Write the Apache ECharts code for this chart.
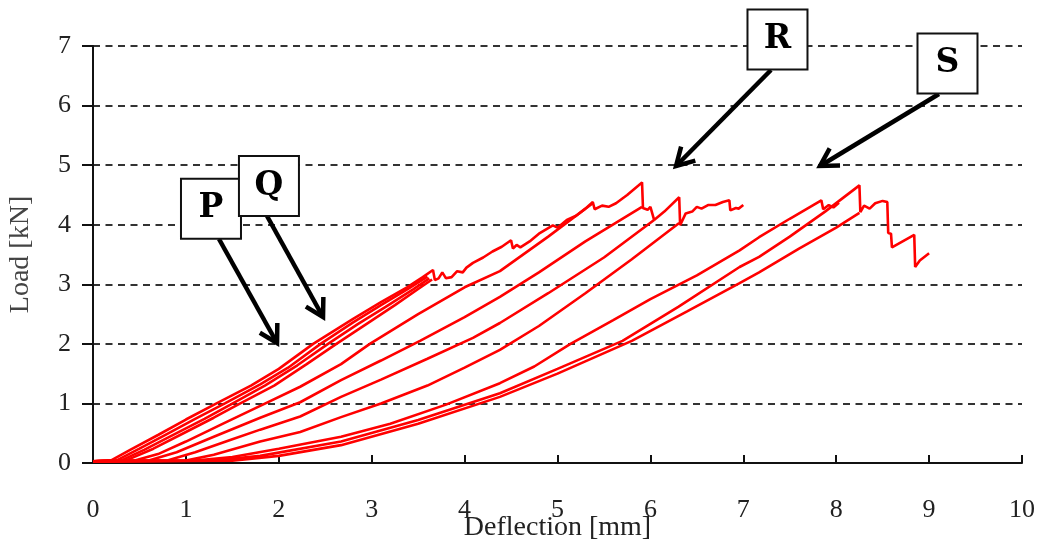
<!DOCTYPE html>
<html>
<head>
<meta charset="utf-8">
<script src="https://cdn.jsdelivr.net/npm/echarts@6/dist/echarts.min.js"></script>
<style>
html, body { margin: 0; padding: 0; background: #fff; }
#main { width: 1040px; height: 544px; }
</style>
</head>
<body>
<div id="main"></div>
<script>
// load-deflection curves, points are [deflection mm, load kN]
var curveP1 = [[0,0.03],[0.2,0.05],[0.4,0.22],[0.7,0.47],[1.0,0.73],[1.33,1.0],[1.7,1.3],[2.0,1.58],[2.37,2.0],[2.8,2.42],[3.1,2.7],[3.38,2.95],[3.55,3.12],[3.66,3.24],[3.68,3.07],[3.72,3.1],[3.76,3.2],[3.8,3.1],[3.86,3.12],[3.92,3.22],[3.98,3.2],[4.02,3.28],[4.09,3.36],[4.2,3.45],[4.3,3.55],[4.4,3.63],[4.5,3.74],
  [4.52,3.6],[4.56,3.66],[4.6,3.62],[4.7,3.72],[4.8,3.85],[4.95,3.99],[5.0,3.95],[5.1,4.08],[5.2,4.15],[5.3,4.27],[5.38,4.38],[5.4,4.26],[5.48,4.32],[5.55,4.3],[5.63,4.36],[5.75,4.5],[5.91,4.71],[5.92,4.28],[5.97,4.25],[6.0,4.3],[6.04,4.08],[6.15,4.22],[6.31,4.46],[6.32,3.99],[6.38,4.19],[6.45,4.22],[6.5,4.3],[6.55,4.27],[6.62,4.33],[6.7,4.33],[6.78,4.38],[6.85,4.41],[6.86,4.24],[6.92,4.28],[6.95,4.27],[7.0,4.33]];
var curveP2 = [[0,0.03],[0.25,0.04],[0.5,0.24],[0.8,0.49],[1.1,0.74],[1.42,1.0],[1.8,1.32],[2.1,1.6],[2.45,2.0],[2.8,2.36],[3.1,2.65],[3.4,2.93],[3.6,3.13]];
var curveP3 = [[0,0.03],[0.3,0.04],[0.55,0.22],[0.9,0.5],[1.2,0.74],[1.48,0.98],[1.85,1.3],[2.2,1.64],[2.53,2.0],[2.85,2.33],[3.15,2.62],[3.45,2.92],[3.62,3.1]];
var curveP4 = [[0,0.03],[0.35,0.04],[0.65,0.24],[1.0,0.52],[1.3,0.76],[1.55,0.97],[1.95,1.3],[2.3,1.66],[2.62,2.0],[2.95,2.34],[3.25,2.65],[3.5,2.92],[3.65,3.08]];
var curveQ1 = [[0,0.03],[0.45,0.04],[0.7,0.15],[1.0,0.36],[1.4,0.66],[1.8,0.96],[2.23,1.28],[2.67,1.66],[2.98,2.0],[3.5,2.5],[4.0,2.95],[4.38,3.22],[4.9,3.8],[5.38,4.36]];
var curveQ2 = [[0,0.03],[0.6,0.04],[0.9,0.18],[1.3,0.44],[1.8,0.76],[2.23,1.02],[2.67,1.39],[3.1,1.72],[3.52,2.05],[4.0,2.45],[4.38,2.79],[4.8,3.2],[5.3,3.72],[5.91,4.3]];
var curveQ3 = [[0,0.03],[0.8,0.04],[1.1,0.18],[1.5,0.4],[1.8,0.56],[2.23,0.78],[2.67,1.11],[3.1,1.4],[3.6,1.75],[4.09,2.1],[4.38,2.35],[4.9,2.85],[5.5,3.45],[6.04,4.08]];
var curveR1 = [[0,0.03],[1.0,0.04],[1.3,0.14],[1.8,0.36],[2.23,0.52],[2.67,0.77],[3.1,1.0],[3.6,1.3],[4.0,1.6],[4.38,1.9],[4.8,2.3],[5.3,2.85],[5.8,3.42],[6.31,4.03]];
var curveS1 = [[0,0.03],[1.1,0.04],[1.5,0.1],[2.0,0.24],[2.67,0.44],[3.2,0.66],[3.8,0.98],[4.38,1.34],[4.75,1.62],[5.14,2.0],[5.6,2.4],[6.0,2.75],[6.5,3.15],[6.96,3.57],[7.17,3.79],[7.5,4.1],[7.84,4.41],[7.86,4.26],[7.92,4.33],[7.97,4.29],[8.03,4.37]];
var curveS2 = [[0,0.03],[1.3,0.04],[1.8,0.12],[2.67,0.36],[3.5,0.72],[4.38,1.17],[5.0,1.58],[5.7,2.05],[6.3,2.62],[6.96,3.29],[7.17,3.46],[7.5,3.8],[7.88,4.22],[8.25,4.66],[8.26,4.21],[8.3,4.32],[8.36,4.27],[8.42,4.36],[8.5,4.4],[8.55,4.38],[8.56,3.86],[8.59,3.85],[8.6,3.62],[8.84,3.83],[8.85,3.29],[8.9,3.4],[9.0,3.52]];
var curveS3 = [[0,0.03],[1.5,0.04],[2.0,0.12],[2.67,0.3],[3.5,0.66],[4.38,1.11],[5.0,1.5],[5.8,2.05],[6.4,2.55],[6.96,3.02],[7.17,3.2],[7.6,3.6],[8.0,3.95],[8.25,4.2]];

// labelled callouts: box centre and arrow, in data units
var noteLabels = ['P', 'Q', 'R', 'S'];
var noteBox = [[1.27,4.27],[1.894,4.65],[7.368,7.109],[9.198,6.706]];
var noteTail = [[1.356,3.76],[1.873,4.146],[7.298,6.597],[9.106,6.194]];
var noteTip = [[1.981,2.014],[2.476,2.451],[6.276,4.986],[7.826,4.986]];

var curves = [curveP1, curveP2, curveP3, curveP4, curveQ1, curveQ2, curveQ3, curveR1, curveS1, curveS2, curveS3];

var chart = echarts.init(document.getElementById('main'));
var font = 'Liberation Serif';

var option = {
    animation: false,
    grid: { left: 93, right: 18, top: 46, bottom: 81, containLabel: false, outerBoundsMode: 'none' },
    xAxis: {
        type: 'value', min: 0, max: 10, interval: 1,
        name: 'Deflection [mm]', nameLocation: 'middle', nameGap: 51, nameMoveOverlap: false,
        nameTextStyle: { fontFamily: font, fontSize: 28, color: '#222' },
        axisLine: { show: true, lineStyle: { color: '#111', width: 2 } },
        axisTick: { show: true, inside: true, length: 8, lineStyle: { color: '#111', width: 2 } },
        axisLabel: { margin: 34, fontFamily: font, fontSize: 26, color: '#222' },
        splitLine: { show: false }
    },
    yAxis: {
        type: 'value', min: 0, max: 7, interval: 1,
        name: 'Load [kN]', nameLocation: 'middle', nameGap: 58, nameMoveOverlap: false,
        nameTextStyle: { fontFamily: font, fontSize: 28, color: '#444' },
        axisLine: { show: true, lineStyle: { color: '#111', width: 2 } },
        axisTick: { show: true, length: 11, lineStyle: { color: '#111', width: 2 } },
        axisLabel: { margin: 22, fontFamily: font, fontSize: 26, color: '#222' },
        splitLine: { show: true, lineStyle: { color: '#333', width: 2, type: [7, 5.5] } }
    },
    series: curves.map(function (c) {
        return {
            type: 'line',
            data: c,
            showSymbol: false,
            lineStyle: { color: '#ff0000', width: 2.6 },
            z: 3
        };
    })
};
chart.setOption(option);

// callout boxes and arrows (placed from data coords)
function arrowHead(tip, tail, len) {
    var dx = tip[0] - tail[0], dy = tip[1] - tail[1];
    var d = Math.sqrt(dx * dx + dy * dy);
    var ux = dx / d, uy = dy / d;
    var a = Math.PI / 6;
    var p1 = [tip[0] - len * (ux * Math.cos(a) - uy * Math.sin(a)), tip[1] - len * (uy * Math.cos(a) + ux * Math.sin(a))];
    var p2 = [tip[0] - len * (ux * Math.cos(-a) - uy * Math.sin(-a)), tip[1] - len * (uy * Math.cos(-a) + ux * Math.sin(-a))];
    return [p1, tip, p2];
}

var elements = [];
noteLabels.forEach(function (lab, i) {
    var tail = chart.convertToPixel({ gridIndex: 0 }, noteTail[i]);
    var tip = chart.convertToPixel({ gridIndex: 0 }, noteTip[i]);
    elements.push({
        type: 'polyline', z: 50,
        shape: { points: [tail, tip] },
        style: { stroke: '#000', lineWidth: 4.5, fill: null }
    });
    elements.push({
        type: 'polyline', z: 50,
        shape: { points: arrowHead(tip, tail, 20) },
        style: { stroke: '#000', lineWidth: 4.5, fill: null, lineJoin: 'miter' }
    });
});
noteLabels.forEach(function (lab, i) {
    var c = chart.convertToPixel({ gridIndex: 0 }, noteBox[i]);
    elements.push({
        type: 'rect', z: 60,
        shape: { x: c[0] - 30, y: c[1] - 30, width: 60, height: 60 },
        style: { fill: '#fff', stroke: '#111', lineWidth: 2 }
    });
    elements.push({
        type: 'text', z: 61,
        x: c[0], y: c[1],
        style: {
            text: lab, fill: '#000',
            fontFamily: 'DejaVu Serif', fontWeight: 'bold', fontSize: 33,
            align: 'center', verticalAlign: 'middle'
        }
    });
});
chart.setOption({ graphic: elements });
</script>
</body>
</html>
